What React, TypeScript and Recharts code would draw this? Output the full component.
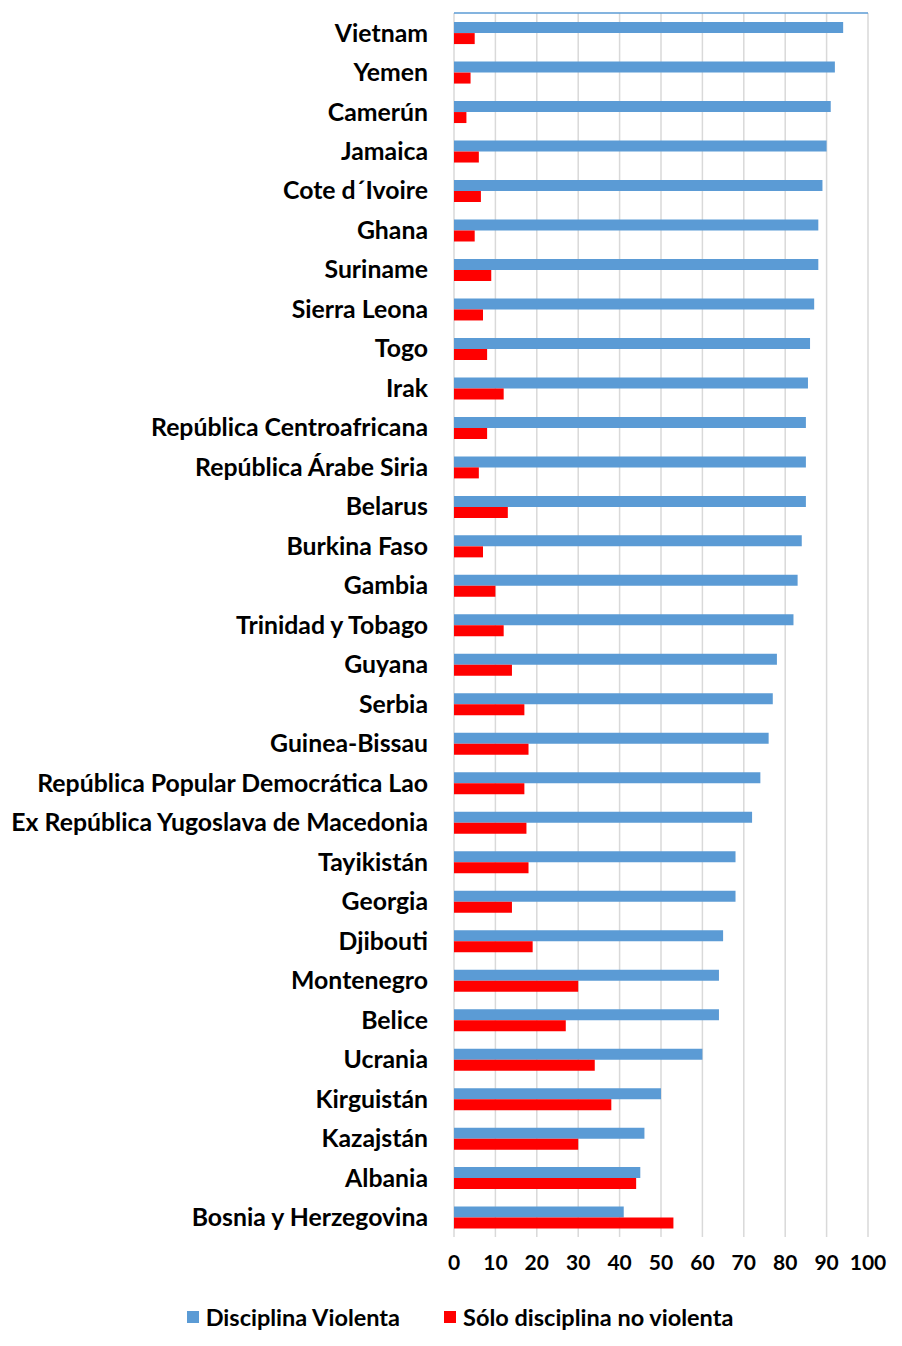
import React from "react";
import {
  BarChart,
  Bar,
  XAxis,
  YAxis,
  CartesianGrid,
  Legend,
} from "recharts";

// Countries, top to bottom
const countries = [
  "Vietnam",
  "Yemen",
  "Camerún",
  "Jamaica",
  "Cote d´Ivoire",
  "Ghana",
  "Suriname",
  "Sierra Leona",
  "Togo",
  "Irak",
  "República Centroafricana",
  "República Árabe Siria",
  "Belarus",
  "Burkina Faso",
  "Gambia",
  "Trinidad y Tobago",
  "Guyana",
  "Serbia",
  "Guinea-Bissau",
  "República Popular Democrática Lao",
  "Ex República Yugoslava de Macedonia",
  "Tayikistán",
  "Georgia",
  "Djibouti",
  "Montenegro",
  "Belice",
  "Ucrania",
  "Kirguistán",
  "Kazajstán",
  "Albania",
  "Bosnia y Herzegovina",
];

// % of children experiencing violent discipline
const violenta = [
  94, 92, 91, 90, 89, 88, 88, 87, 86, 85.5, 85, 85, 85, 84, 83, 82, 78, 77, 76,
  74, 72, 68, 68, 65, 64, 64, 60, 50, 46, 45, 41,
];

// % of children experiencing only non-violent discipline
const noViolenta = [
  5, 4, 3, 6, 6.5, 5, 9, 7, 8, 12, 8, 6, 13, 7, 10, 12, 14, 17, 18, 17, 17.5,
  18, 14, 19, 30, 27, 34, 38, 30, 44, 53,
];

const xTicks = [0, 10, 20, 30, 40, 50, 60, 70, 80, 90, 100];

const seriesNames = ["Disciplina Violenta", "Sólo disciplina no violenta"];
const BLUE = "#5B9BD5";
const RED = "#FF0000";

const data = countries.map((name, i) => ({
  name,
  violenta: violenta[i],
  noViolenta: noViolenta[i],
}));

const FONT = "Lato, 'Open Sans', sans-serif";

const LegendContent = () => (
  <div
    style={{
      height: 56,
      display: "flex",
      justifyContent: "center",
      alignItems: "flex-start",
      paddingTop: 24,
      paddingLeft: 44,
      boxSizing: "border-box",
      fontFamily: FONT,
      fontWeight: 700,
      fontSize: 23.5,
      color: "#000",
      gap: 44,
    }}
  >
    {[BLUE, RED].map((c, i) => (
      <div key={i} style={{ display: "flex", alignItems: "center", lineHeight: "24px" }}>
        <span
          style={{
            display: "inline-block",
            width: 12,
            height: 12,
            background: c,
            marginRight: 7,
          }}
        />
        <span>{seriesNames[i]}</span>
      </div>
    ))}
  </div>
);

export default function App() {
  return (
    <div style={{ width: 894, height: 1329, background: "#fff" }}>
      <BarChart
        width={894}
        height={1329}
        data={data}
        layout="vertical"
        margin={{ top: 5, right: 34, left: 0, bottom: 0 }}
        barCategoryGap="23%"
        barGap={0}
      >
        <CartesianGrid
          xAxisId="bottom"
          horizontal={false}
          stroke="#d9d9d9"
          strokeWidth={1.5}
        />
        <XAxis
          xAxisId="top"
          type="number"
          orientation="top"
          domain={[0, 100]}
          ticks={xTicks}
          height={1}
          mirror
          tick={() => <g />}
          tickSize={7}
          axisLine={{ stroke: BLUE, strokeWidth: 1.5 }}
          tickLine={{ stroke: BLUE, strokeWidth: 1.5 }}
        />
        <XAxis
          xAxisId="bottom"
          type="number"
          orientation="bottom"
          domain={[0, 100]}
          ticks={xTicks}
          height={44}
          axisLine={false}
          tickLine={false}
          tickMargin={12}
          tick={{ fill: "#000", fontSize: 21, fontWeight: 700, fontFamily: FONT }}
        />
        <YAxis
          type="category"
          dataKey="name"
          width={446}
          axisLine={false}
          tickLine={false}
          tickMargin={20}
          interval={0}
          tick={{ fill: "#000", fontSize: 24.8, fontWeight: 700, fontFamily: FONT }}
        />
        <Legend verticalAlign="bottom" content={() => <LegendContent />} />
        <Bar
          xAxisId="bottom"
          dataKey="violenta"
          name={seriesNames[0]}
          fill={BLUE}
          isAnimationActive={false}
        />
        <Bar
          xAxisId="bottom"
          dataKey="noViolenta"
          name={seriesNames[1]}
          fill={RED}
          isAnimationActive={false}
        />
      </BarChart>
    </div>
  );
}
